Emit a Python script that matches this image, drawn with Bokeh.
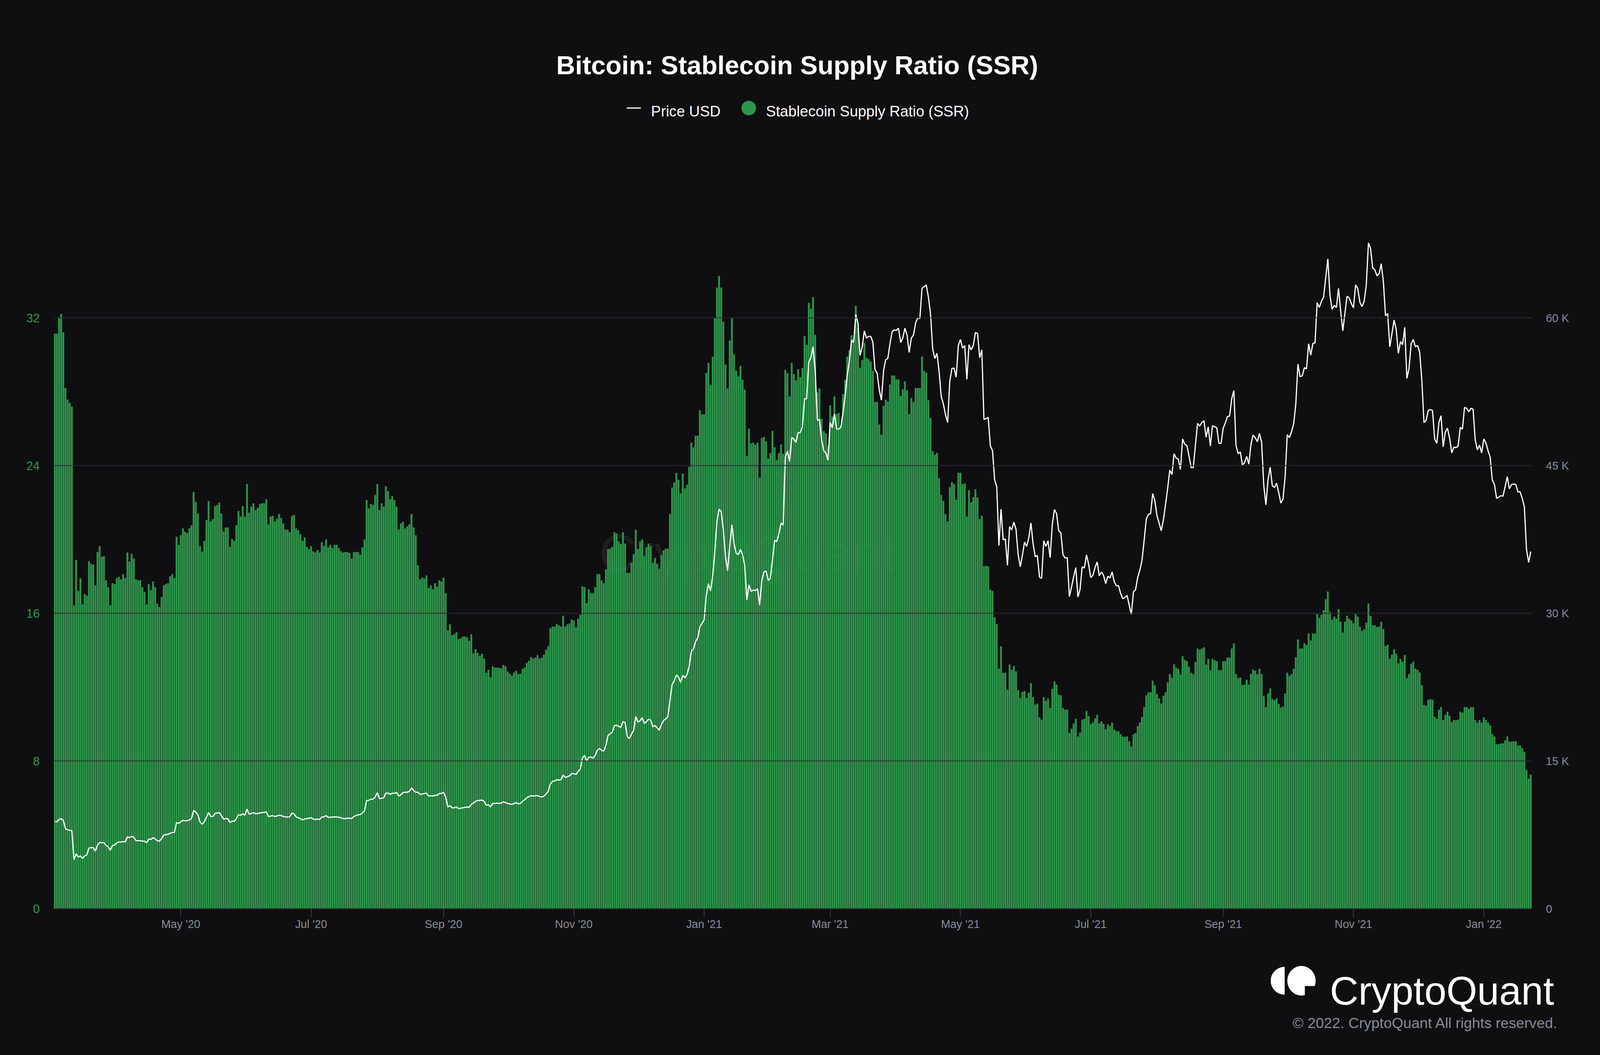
import pandas as pd
from bokeh.plotting import figure
from bokeh.models import (Range1d, LinearAxis, FixedTicker, DatetimeTickFormatter,
                          Label, ColumnDataSource)
from bokeh.embed import file_html
from bokeh.resources import INLINE

# ---------------- data (daily) ----------------
start_date = "2020-03-03"

ssr = [
    31.15, 31.15, 32.04, 32.21, 31.22, 28.20, 27.57, 27.40, 27.19, 16.43,
    18.89, 17.21, 17.89, 16.48, 17.04, 16.95, 18.82, 18.68, 18.64, 17.51,
    19.32, 19.64, 19.06, 19.10, 17.79, 17.42, 16.43, 17.63, 17.58, 17.91,
    17.98, 17.84, 18.12, 17.91, 19.29, 18.80, 19.22, 18.96, 17.84, 17.79,
    17.79, 17.42, 17.16, 16.48, 17.58, 17.25, 17.72, 17.42, 16.53, 16.34,
    16.88, 17.51, 17.58, 17.63, 18.00, 18.12, 17.91, 20.14, 19.71, 20.23,
    20.60, 20.42, 20.35, 20.60, 20.77, 22.57, 22.03, 21.40, 19.64, 19.34,
    19.92, 21.05, 22.08, 20.98, 21.10, 21.80, 21.87, 21.99, 21.40, 20.42,
    20.65, 20.65, 19.60, 20.02, 19.92, 20.77, 21.54,
    21.24, 21.80, 21.24, 23.00, 21.45, 21.78, 21.96, 21.59, 21.71, 21.92,
    21.96, 21.96, 22.18, 20.82, 21.24, 21.28, 20.98, 21.12, 21.38, 21.17,
    20.86, 20.53, 20.53, 20.39, 21.28, 21.33, 20.60, 20.49, 20.28, 19.92,
    20.11, 19.60, 19.48, 19.64, 19.36, 19.29, 19.43, 19.29, 19.85, 19.64,
    20.00, 19.57, 19.71, 19.53, 19.71, 19.71, 19.53, 19.36, 19.29, 19.32,
    19.32, 19.27, 18.96, 19.32, 19.32, 19.32, 19.17, 19.57, 20.00, 22.13,
    21.68, 21.92, 21.87, 22.41, 23.00, 21.59, 21.96, 21.78, 22.88, 22.62,
    22.18, 22.34, 22.13, 21.78, 20.53, 20.86, 20.96, 20.60, 20.70, 20.82,
    21.38, 20.65, 20.23, 18.59, 17.84, 17.93,
    17.89, 18.05, 17.37, 17.51, 17.30, 17.63, 17.44, 17.79, 17.72, 17.93,
    17.09, 15.07, 15.40, 14.81, 14.86, 14.98, 14.60, 14.65, 14.74, 14.74,
    14.70, 14.51, 14.86, 13.83, 14.06, 13.85, 13.69, 13.81, 13.55, 12.78,
    12.94, 12.54, 13.13, 13.06, 13.06, 13.06, 13.01, 13.20, 13.13, 12.85,
    12.73, 12.63, 12.80, 12.89, 12.71, 12.73, 12.99, 13.06, 13.31, 13.43,
    13.62, 13.55, 13.60, 13.74, 13.55, 13.60, 13.76, 14.02, 14.23, 15.19,
    15.28, 15.28, 15.42, 15.35, 15.28, 15.87, 15.28, 15.40, 15.45, 15.66,
    15.61, 15.24, 15.71, 15.92, 17.46, 17.42, 16.55, 17.30, 17.09, 17.09,
    17.42, 18.12, 18.12, 17.79, 17.63, 18.38, 19.48,
    19.50, 19.60, 20.39, 20.32, 19.90, 19.76, 20.39, 19.78, 18.19, 18.19,
    18.73, 19.20, 20.53, 19.48, 19.90, 20.00, 19.10, 19.57, 19.78, 19.64,
    18.73, 19.01, 18.68, 18.42, 19.15, 19.41, 19.50, 19.50, 21.38, 22.81,
    23.09, 23.61, 23.23, 22.50, 23.56, 22.76, 22.97, 23.93, 25.25, 24.99,
    25.62, 25.62, 27.00, 26.77, 26.77, 29.02, 29.56, 28.36, 29.89, 32.00,
    33.64, 34.27, 33.64, 31.79, 29.47, 28.18, 30.78, 31.97, 30.03, 29.14,
    28.83, 29.40, 28.65, 28.11, 24.52, 26.00, 25.20, 25.25, 25.13, 25.25,
    23.35, 25.50, 25.55, 25.32, 24.38, 24.68, 25.88, 24.99, 24.29, 24.68,
    25.15, 24.64, 29.18, 29.00, 27.75, 29.56,
    28.95, 28.62, 29.23, 28.79, 29.28, 31.01, 30.54, 32.82, 32.49, 33.12,
    31.08, 27.97, 28.18, 26.54, 25.86, 25.74, 25.08, 27.26, 26.65, 27.75,
    26.79, 26.86, 26.16, 27.87, 28.65, 29.91, 30.26, 31.06, 30.87, 32.65,
    31.50, 29.30, 29.72, 30.64, 29.84, 29.77, 29.63, 29.14, 27.45, 27.45,
    26.23, 25.67, 27.24, 27.57, 27.47, 28.39, 28.88, 28.88, 28.67, 28.67,
    27.78, 28.13, 28.57, 28.08, 26.79, 27.66, 27.45, 28.20, 28.20, 28.20,
    29.91, 29.14, 29.04, 27.54, 26.58, 24.78, 24.59, 24.68, 23.32, 22.41,
    22.08, 21.38, 20.98, 22.83, 23.11, 23.00, 22.15, 23.61, 23.61, 23.00,
    23.04, 21.24, 22.67, 22.01, 22.29, 22.71, 22.27,
    21.10, 21.28, 18.54, 18.57, 18.54, 17.28, 17.21, 15.78, 15.42, 13.01,
    14.21, 12.78, 12.78, 11.86, 13.22, 12.94, 13.15, 12.85, 11.84, 11.42,
    11.74, 11.79, 11.42, 11.70, 12.21, 11.46, 11.06, 11.11, 10.36, 10.24,
    11.46, 11.25, 11.39, 10.88, 11.91, 12.31, 12.14, 11.60, 11.56, 10.88,
    10.78, 10.78, 9.52, 9.75, 10.03, 10.29, 9.33, 9.54, 10.24, 10.29,
    10.71, 10.43, 9.99, 10.08, 10.31, 10.50, 10.03, 10.15, 10.01, 9.73,
    9.99, 9.89, 10.08, 9.70, 9.61, 9.61, 9.45, 9.31, 9.31, 9.33,
    9.07, 8.79, 9.45, 9.52, 9.89, 10.08, 10.38, 10.92, 11.56, 11.72,
    11.72, 12.35, 12.10, 11.63, 11.39, 11.11,
    11.53, 11.72, 12.26, 12.71, 12.52, 13.24, 13.06, 12.99, 12.68, 13.67,
    13.48, 13.41, 13.10, 12.78, 12.71, 13.36, 14.09, 14.02, 14.09, 14.16,
    13.22, 13.53, 12.92, 13.53, 13.46, 13.41, 12.92, 12.92, 13.41, 13.41,
    13.60, 13.60, 14.09, 14.37, 12.71, 12.49, 12.52, 12.10, 12.14, 12.40,
    12.14, 12.71, 12.96, 12.89, 12.71, 12.99, 12.71, 11.53, 10.92, 11.65,
    11.93, 11.35, 11.30, 11.39, 11.09, 10.88, 10.95, 11.65, 12.78, 12.61,
    12.71, 12.99, 13.62, 14.58, 14.09, 14.09, 14.37, 14.28, 14.91, 14.53,
    14.91, 14.91, 15.96, 15.75, 15.92, 16.17, 16.76, 17.18, 16.08, 15.66,
    15.82, 15.71, 16.22, 15.54, 14.96, 15.54, 15.87,
    15.71, 15.61, 15.47, 15.96, 15.82, 15.28, 15.05, 15.14, 15.49, 16.53,
    15.85, 15.35, 15.35, 15.26, 15.28, 15.54, 15.14, 14.23, 14.30, 13.55,
    13.76, 14.06, 13.81, 13.29, 13.53, 13.38, 13.74, 12.49, 12.71, 13.27,
    13.38, 13.01, 12.94, 12.80, 12.10, 11.04, 10.99, 11.32, 11.35, 11.32,
    10.41, 10.29, 10.78, 10.92, 10.22, 10.50, 10.67, 10.45, 10.10, 10.22,
    10.20, 10.24, 10.67, 10.62, 10.92, 10.92, 10.83, 10.92, 10.92, 10.22,
    10.08, 10.22, 10.08, 10.36, 10.22, 10.08, 9.94, 9.45, 9.33, 8.91,
    8.91, 8.95, 8.95, 9.12, 9.33, 9.05, 9.05, 9.07, 9.07, 8.84,
    8.84, 8.70, 8.49, 7.52, 7.05, 7.27,
]

price_usd = [
    8836, 8836, 9056, 9144, 8968, 8133, 8000, 7957, 7913, 4967,
    5583, 5231, 5363, 5099, 5363, 5451, 6154, 6198, 6198, 5847,
    6462, 6726, 6682, 6726, 6418, 6286, 5935, 6418, 6462, 6682,
    6770, 6770, 6814, 6770, 7297, 7209, 7341, 7253, 6902, 6902,
    6902, 6858, 6858, 6682, 7078, 7034, 7209, 7078, 6902, 6858,
    7122, 7473, 7517, 7561, 7649, 7737, 7737, 8748, 8660, 8836,
    8968, 8924, 8924, 9012, 9144, 9979, 9803, 9539, 8792, 8572,
    8836, 9276, 9759, 9364, 9364, 9671, 9715, 9759, 9451, 9100,
    9144, 9144, 8748, 8880, 8880, 9144, 9539,
    9495, 9627, 9495, 10111, 9583, 9671, 9759, 9627, 9671, 9715,
    9759, 9759, 9847, 9364, 9407, 9451, 9364, 9407, 9495, 9451,
    9364, 9320, 9320, 9320, 9715, 9627, 9320, 9232, 9144, 9012,
    9100, 9144, 9188, 9232, 9100, 9056, 9100, 9056, 9320, 9320,
    9451, 9276, 9276, 9320, 9320, 9320, 9276, 9232, 9144, 9144,
    9188, 9188, 9144, 9364, 9451, 9539, 9539, 9715, 9935, 10990,
    10990, 11122, 11122, 11342, 11781, 11166, 11210, 11254, 11737, 11737,
    11605, 11737, 11693, 11825, 11430, 11562, 11781, 11825, 11825, 11913,
    12265, 12001, 11825, 11825, 11605, 11649,
    11693, 11737, 11430, 11474, 11430, 11518, 11518, 11693, 11693, 11825,
    11342, 10331, 10462, 10243, 10243, 10331, 10155, 10199, 10243, 10287,
    10331, 10287, 10594, 10726, 10902, 10990, 10990, 11034, 10902, 10506,
    10550, 10331, 10682, 10682, 10726, 10682, 10726, 10858, 10770, 10682,
    10638, 10594, 10682, 10770, 10638, 10682, 10902, 11078, 11254, 11386,
    11474, 11430, 11474, 11474, 11386, 11342, 11430, 11649, 11913, 12660,
    12924, 12968, 13100, 13056, 13100, 13584, 13320, 13408, 13496, 13716,
    13716, 13628, 13935, 14155, 15298, 15562, 14990, 15386, 15386, 15298,
    15562, 16089, 16265, 16089, 16002, 16573, 17584,
    17760, 17936, 18595, 18639, 18507, 18419, 18991, 18903, 17496, 17276,
    17716, 18112, 19518, 18947, 19079, 19386, 18815, 18991, 19254, 19123,
    18463, 18595, 18375, 18112, 18683, 19123, 19254, 19474, 21101, 22771,
    23123, 23738, 23518, 22991, 23694, 23431, 23782, 24618, 26156, 26376,
    27123, 27475, 28618, 28970, 29321, 31783, 33014, 32266, 33761, 36179,
    39344, 40575, 40311, 38465, 35739, 34333, 36839, 38993, 37059, 36092,
    35960, 36487, 35960, 34860, 31343, 32882, 32223, 32355, 32311, 32486,
    30816, 33322, 34201, 34289, 33322, 33585, 35388, 37410, 37278, 38069,
    39168, 38949, 45850, 46466, 45411, 47828,
    47697, 47345, 48356, 48356, 48928, 51785, 51785, 55521, 55961, 57060,
    54642, 49587, 49675, 47609, 46510, 46290, 45543, 49367, 48840, 50246,
    48708, 48708, 48884, 50334, 52005, 54203, 55609, 57719, 57499, 60357,
    59478, 56181, 57060, 58687, 57939, 58115, 58115, 57543, 54730, 54379,
    52665, 51653, 54642, 55741, 55873, 57368, 58599, 58775, 58731, 58951,
    57499, 57939, 58951, 58247, 56489, 57939, 58247, 59478, 60006, 59918,
    62995, 63171, 63347, 62116, 60357, 56841, 55873, 56401, 54555, 52005,
    51258, 50159, 49367, 53543, 54862, 54906, 53983, 57192, 57807, 56928,
    57192, 53763, 57280, 56753, 57192, 58511, 58424,
    55961, 56752, 49675, 49763, 49895, 46993, 46510, 43564, 42861, 36883,
    40575, 37454, 37542, 34861, 38817, 38465, 39256, 38553, 35959, 34728,
    35871, 37234, 36795, 37674, 39168, 37059, 35740, 35871, 33673, 33541,
    37366, 36795, 37366, 35652, 39036, 40531, 40135, 38377, 38157, 35959,
    35608, 35652, 31695, 32662, 33717, 34640, 31651, 32443, 34728, 34596,
    35915, 34992, 33629, 33849, 34640, 35212, 33805, 34201, 33849, 33014,
    33761, 33585, 34201, 33190, 32794, 32794, 32003, 31475, 31607, 31827,
    30816, 29893, 32179, 32399, 33673, 34377, 35388, 37410, 39564, 40048,
    40092, 42158, 41455, 39916, 39168, 38377,
    39476, 41015, 42685, 44531, 44092, 46202, 45762, 45630, 44619, 47697,
    47169, 47037, 45982, 44795, 44795, 47081, 49279, 49015, 49367, 49543,
    47872, 48928, 46993, 49059, 48928, 48840, 47257, 47257, 48796, 49323,
    49983, 50027, 51785, 52621, 47037, 46202, 46378, 45059, 45279, 45938,
    45147, 47169, 48093, 47829, 47433, 48268, 47345, 42993, 41015, 43564,
    44839, 42949, 42773, 43213, 42246, 41191, 41587, 43872, 48137, 47829,
    48444, 49235, 51258, 55302, 54027, 54115, 54950, 54818, 57368, 56225,
    57412, 57456, 61544, 61060, 61676, 62115, 64050, 65984, 62248, 60885,
    61281, 61060, 62995, 60665, 58687, 60490, 62204,
    62026, 61456, 61016, 63346, 62995, 61588, 61148, 61676, 63346, 67610,
    67039, 65061, 64885, 64270, 64490, 65500, 63654, 60225, 60445, 57060,
    58379, 59786, 58819, 56401, 57588, 57280, 59038, 53851, 54862, 57368,
    57807, 57060, 57192, 56489, 53676, 49367, 49587, 50598, 50686, 50598,
    47697, 47257, 49367, 50070, 46906, 48400, 48796, 47785, 46290, 46862,
    46818, 46994, 48884, 48708, 50906, 50818, 50466, 50818, 50730, 47609,
    46598, 47081, 46290, 47697, 47301, 46510, 45850, 43520, 43080, 41674,
    41806, 41938, 41894, 42861, 43872, 42641, 43080, 43124, 43080, 42333,
    42333, 41674, 40795, 36487, 35168, 36267,
]

x_tick_dates = ["2020-05-01", "2020-07-01", "2020-09-01", "2020-11-01",
                "2021-01-01", "2021-03-01", "2021-05-01", "2021-07-01",
                "2021-09-01", "2021-11-01", "2022-01-01"]
x_tick_labels = ["May '20", "Jul '20", "Sep '20", "Nov '20", "Jan '21", "Mar '21",
                 "May '21", "Jul '21", "Sep '21", "Nov '21", "Jan '22"]
ssr_ticks = [0, 8, 16, 24, 32, 40]
ssr_tick_labels = ["0", "8", "16", "24", "32", ""]
price_ticks = [0, 15000, 30000, 45000, 60000, 75000]
price_tick_labels = ["0", "15 K", "30 K", "45 K", "60 K", ""]

title_text = "Bitcoin: Stablecoin Supply Ratio (SSR)"
series_names = ["Price USD", "Stablecoin Supply Ratio (SSR)"]

# ---------------- styling ----------------
BG = "#0f0f11"
GREEN = "#2d964b"
GREEN_TXT = "#2e9a4c"
GRID = "#2a2a30"
GRAY_TXT = "#8c8c97"
FONT = "Liberation Sans"

# The page is laid out 4096 CSS px wide (then shown 4287 px wide) and 2700 tall:
# horizontal sizes are scaled by SX, vertical sizes are kept.
SX = 4096 / 4287
def fs(v):
    return "%.1fpx" % (v * SX)

WC = 4080                               # CSS width of every figure
H_HEAD, H_MAIN, H_FOOT = 408, 2012, 264
TOP_MAIN = 8 + H_HEAD
TOP_FOOT = TOP_MAIN + H_MAIN
BL, BR = 137, 159                       # left / right borders of the chart
FX0, FX1 = 152, 4112                    # chart frame edges in reference pixels

n = min(len(ssr), len(price_usd))
dates = pd.date_range(start_date, periods=n, freq="D")
src = ColumnDataSource(dict(date=dates, ssr=ssr[:n], price=price_usd[:n]))

DAY_MS = 86400000.0
def ms(d):
    return float(pd.Timestamp(d).value // 10**6)

x_start = ms(dates[0]) - DAY_MS / 2
x_end = ms(dates[-1]) + DAY_MS / 2

def deco_fig(top_css, h_css):
    # decoration figure; its data coordinates are pixels of the reference picture
    return figure(width=WC, height=h_css, title_location=None,
                  x_range=Range1d(8 / SX, (8 + WC) / SX),
                  y_range=Range1d(top_css + h_css, top_css),
                  x_axis_type=None, y_axis_type=None, output_backend="svg",
                  toolbar_location=None, min_border=0, outline_line_color=None,
                  background_fill_color=BG, border_fill_color=BG)

# ---------------- header (title + legend) ----------------
head = deco_fig(8, H_HEAD)
head.add_layout(Label(x=2144, y=174, text=title_text, text_align="center",
                      text_baseline="alphabetic", text_font=FONT,
                      text_font_size=fs(70), text_font_style="bold",
                      text_color="#ffffff"))
head.scatter(x=[1706], y=[284], marker="dash", size=38 * SX, line_color="#ffffff",
             line_width=3, fill_color=None)
head.add_layout(Label(x=1752, y=292, text=series_names[0], text_align="left",
                      text_baseline="alphabetic", text_font=FONT,
                      text_font_size=fs(40), text_color="#ffffff"))
head.scatter(x=[2014], y=[284], marker="circle", size=39 * SX, fill_color=GREEN,
             line_color=None)
head.add_layout(Label(x=2060, y=292, text=series_names[1], text_align="left",
                      text_baseline="alphabetic", text_font=FONT,
                      text_font_size=fs(40), text_color="#ffffff"))

# ---------------- main chart ----------------
p = figure(width=WC, height=H_MAIN, x_axis_type="datetime", title_location=None,
           x_range=Range1d(x_start, x_end), y_range=Range1d(0, 40),
           output_backend="svg", toolbar_location=None,
           min_border_left=BL, min_border_right=BR, min_border_top=27,
           min_border_bottom=95, background_fill_color=BG, border_fill_color=BG,
           outline_line_color=None)
p.extra_y_ranges = {"price": Range1d(0, 75000)}

# faint watermark behind the bars
wm_x = x_start + (1613 - FX0) / (FX1 - FX0) * (x_end - x_start)
wm_y = (2327 - 1417) / 1890 * 40
p.add_layout(Label(x=wm_x, y=wm_y, text="CryptoQuant", text_font=FONT,
                   text_font_size=fs(140), text_color="#ffffff", text_alpha=0.07,
                   text_baseline="alphabetic", text_align="left", level="underlay"))

p.vbar(x="date", top="ssr", bottom=0, width=0.86 * DAY_MS, source=src,
       fill_color=GREEN, line_color=None)
p.line(x="date", y="price", source=src, y_range_name="price",
       line_color="#ffffff", line_width=3)

# grid
p.xgrid.visible = False
p.ygrid.ticker = FixedTicker(ticks=ssr_ticks)
p.ygrid.grid_line_color = GRID
p.ygrid.grid_line_width = 2
p.ygrid.level = "guide"

# left axis
ya = p.yaxis[0]
ya.ticker = FixedTicker(ticks=ssr_ticks)
ya.major_label_overrides = {t: l for t, l in zip(ssr_ticks, ssr_tick_labels)}
ya.axis_line_color = None
ya.major_tick_line_color = None
ya.minor_tick_line_color = None
ya.major_tick_out = 0
ya.major_tick_in = 0
ya.major_label_standoff = 36
ya.major_label_text_color = GREEN_TXT
ya.major_label_text_font = FONT
ya.major_label_text_font_size = fs(32)

# right axis
ra = LinearAxis(y_range_name="price", ticker=FixedTicker(ticks=price_ticks))
ra.major_label_overrides = {t: l for t, l in zip(price_ticks, price_tick_labels)}
ra.axis_line_color = None
ra.major_tick_line_color = None
ra.minor_tick_line_color = None
ra.major_tick_out = 0
ra.major_tick_in = 0
ra.major_label_standoff = 36
ra.major_label_text_color = GRAY_TXT
ra.major_label_text_font = FONT
ra.major_label_text_font_size = fs(30)
p.add_layout(ra, "right")

# x axis
xt = [ms(d) for d in x_tick_dates]
xa = p.xaxis[0]
xa.ticker = FixedTicker(ticks=xt)
fmt = "%b '%y"
xa.formatter = DatetimeTickFormatter(milliseconds=fmt, seconds=fmt, minsec=fmt,
                                     minutes=fmt, hourmin=fmt, hours=fmt, days=fmt,
                                     months=fmt, years=fmt)
xa.major_label_overrides = {t: l for t, l in zip(xt, x_tick_labels)}
xa.axis_line_color = "#34343b"
xa.axis_line_width = 2
xa.major_tick_in = 0
xa.major_tick_out = 22
xa.major_tick_line_color = "#2e2e36"
xa.major_tick_line_width = 3
xa.minor_tick_line_color = None
xa.major_label_standoff = 1
xa.major_label_text_color = GRAY_TXT
xa.major_label_text_font = FONT
xa.major_label_text_font_size = fs(30)

# ---------------- footer (logo + copyright) ----------------
foot = deco_fig(TOP_FOOT, H_FOOT)
foot.wedge(x=[3450], y=[2517.5], radius=37.5, start_angle=1.5708, end_angle=4.7124,
           direction="anticlock", fill_color="#ffffff", line_color=None)
foot.ellipse(x=[3495], y=[2517.5], width=76, height=76, fill_color="#ffffff",
             line_color=None)
foot.quad(left=[3504], right=[3537], top=[2531], bottom=[2558], fill_color=BG,
          line_color=None)
foot.add_layout(Label(x=3571, y=2543, text="CryptoQuant", text_font=FONT,
                      text_font_size=fs(106), text_color="#ffffff",
                      text_baseline="alphabetic", text_align="left"))
foot.add_layout(Label(x=4182, y=2625, text="\u00a9 2022. CryptoQuant All rights reserved.",
                      text_font=FONT, text_font_size=fs(39.5), text_color="#8a8a94",
                      text_baseline="alphabetic", text_align="right"))

# three independent roots stacked vertically (no frame alignment between them)
html = file_html([head, p, foot], INLINE, title="Bitcoin: Stablecoin Supply Ratio (SSR)")
html = html.replace(
    "</head>",
    "<style>html,body{background:#0f0f11;}"
    "body{display:flex;flex-direction:column;align-items:flex-start;}</style></head>", 1)
open("out.html", "w").write(html)
